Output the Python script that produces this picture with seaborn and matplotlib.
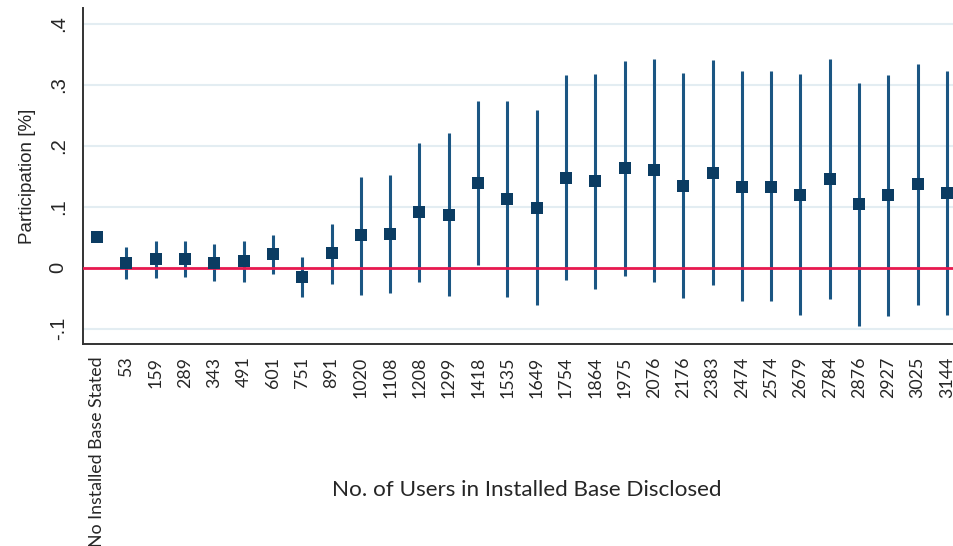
import matplotlib
matplotlib.use("Agg")
import matplotlib.pyplot as plt
import numpy as np
import pandas as pd
import seaborn as sns

# Installed-base size categories (x axis)
categories = ["No Installed Base Stated", "53", "159", "289", "343", "491", "601",
              "751", "891", "1020", "1108", "1208", "1299", "1418", "1535", "1649",
              "1754", "1864", "1975", "2076", "2176", "2383", "2474", "2574", "2679",
              "2784", "2876", "2927", "3025", "3144"]

# Point estimates and confidence bounds
estimate = [0.051, 0.008, 0.015, 0.015, 0.008, 0.011, 0.023, -0.015, 0.024, 0.053,
            0.056, 0.092, 0.087, 0.139, 0.113, 0.098, 0.148, 0.143, 0.164, 0.160,
            0.134, 0.156, 0.133, 0.133, 0.120, 0.146, 0.104, 0.119, 0.137, 0.122]
lower = [0.051, -0.018, -0.016, -0.015, -0.021, -0.023, -0.011, -0.048, -0.026, -0.044,
         -0.041, -0.023, -0.046, 0.005, -0.048, -0.061, -0.020, -0.034, -0.013, -0.024,
         -0.050, -0.029, -0.055, -0.055, -0.078, -0.051, -0.095, -0.079, -0.061, -0.077]
upper = [0.051, 0.034, 0.044, 0.044, 0.039, 0.044, 0.054, 0.018, 0.072, 0.149,
         0.152, 0.205, 0.221, 0.274, 0.274, 0.259, 0.316, 0.318, 0.339, 0.343,
         0.319, 0.341, 0.322, 0.322, 0.318, 0.343, 0.303, 0.316, 0.334, 0.322]

y_ticks = [-0.1, 0.0, 0.1, 0.2, 0.3, 0.4]
y_tick_labels = ["-.1", "0", ".1", ".2", ".3", ".4"]

# Long format: (lower, estimate, upper) per category -> median = estimate, full range = CI
rows = []
for c, lo, est, hi in zip(categories, lower, estimate, upper):
    for v in (lo, est, hi):
        rows.append({"group": c, "value": v})
df = pd.DataFrame(rows)

sns.set_theme(style="white")
plt.rcParams["font.family"] = ["Liberation Sans", "DejaVu Sans"]

W, H = 954, 546
fig = plt.figure(figsize=(W / 100, H / 100), dpi=100)
ax = fig.add_axes([83 / W, 1 - 344 / H, (954 - 83) / W, (344 - 8) / H])

marker_color = "#0b3c62"
bar_color = "#1b5683"
zero_color = "#e8194f"

sns.pointplot(data=df, x="group", y="value", order=categories,
              estimator="median", errorbar=("pi", 100),
              marker="s", linestyle="none", markersize=8.3,
              color=marker_color,
              err_kws={"color": bar_color, "linewidth": 2.2},
              ax=ax)

for ln in ax.lines:
    if ln.get_marker() == "s":
        ln.set_zorder(4)
        ln.set_markeredgewidth(0)
        ln.set_markerfacecolor(marker_color)
    else:
        ln.set_zorder(2)
        ln.set_solid_capstyle("butt")

ax.axhline(0, color=zero_color, linewidth=2.0, zorder=3)

ax.set_xlim(-0.48, 29.24)
ax.set_ylim(-0.125, 0.426)
ax.set_yticks(y_ticks)
ax.set_yticklabels(y_tick_labels, rotation=90, va="center", fontsize=14.5)
ax.yaxis.grid(True, color="#e3edf2", linewidth=1.5, zorder=0)
ax.xaxis.grid(False)
ax.set_axisbelow(True)

ax.tick_params(axis="y", length=0, pad=11)
ax.tick_params(axis="x", length=6, width=1.2, color="#333333", pad=3)
ax.set_xticks(range(len(categories)))
ax.set_xticklabels(categories, rotation=90, fontsize=12.8, family=["Lato", "DejaVu Sans"],
                   va="top", ha="center")

for side in ("top", "right"):
    ax.spines[side].set_visible(False)
for side in ("left", "bottom"):
    ax.spines[side].set_color("#333333")
    ax.spines[side].set_linewidth(1.4)

ax.set_xlabel("")
ax.set_ylabel("Participation [%]", fontsize=13.5, labelpad=9)
fig.text(527 / W, 1 - 490 / H, "No. of Users in Installed Base Disclosed",
         ha="center", va="center", fontsize=16.2, family=["Lato", "DejaVu Sans"])

fig.savefig("out.png", dpi=100, facecolor="white")
